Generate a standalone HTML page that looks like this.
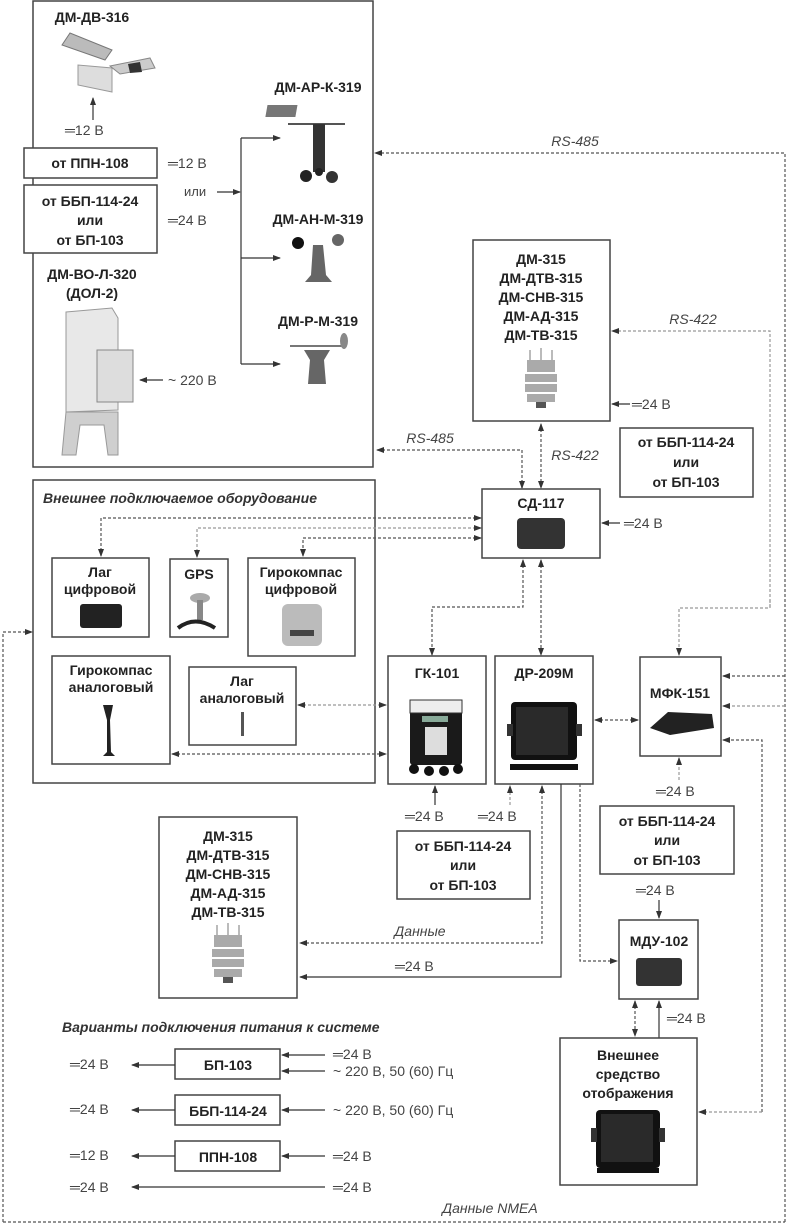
<!DOCTYPE html>
<html><head><meta charset="utf-8">
<style>
html,body{margin:0;padding:0;background:#fff;}
svg{display:block;}
text{font-family:"Liberation Sans",Arial,sans-serif;fill:#222;}
.b{font-weight:bold;font-size:14px;}
.n{font-size:14px;fill:#444;}
.i{font-style:italic;font-size:14px;fill:#444;}
.bi{font-style:italic;font-weight:bold;font-size:14px;fill:#333;}
.box{fill:#fff;stroke:#444;stroke-width:1.5;}
.s{stroke:#333;stroke-width:1.2;fill:none;}
.d{stroke:#555;stroke-width:1.2;fill:none;stroke-dasharray:3,2;}
.dl{stroke:#999;stroke-width:1.2;fill:none;stroke-dasharray:3,2;}
</style></head><body>
<svg width="787" height="1224" viewBox="0 0 787 1224" xmlns="http://www.w3.org/2000/svg">
<defs>
<marker id="a" markerWidth="8" markerHeight="8" refX="7" refY="4" orient="auto" markerUnits="userSpaceOnUse"><path d="M0,1 L8,4 L0,7 Z" fill="#333"/></marker>
<marker id="as" markerWidth="8" markerHeight="8" refX="1" refY="4" orient="auto" markerUnits="userSpaceOnUse"><path d="M8,1 L0,4 L8,7 Z" fill="#333"/></marker>
</defs>

<!-- Top box -->
<rect class="box" x="33" y="1" width="340" height="466"/>
<text class="b" x="92" y="22" text-anchor="middle">ДМ-ДВ-316</text>
<!-- camera -->
<path d="M62,45 L70,33 L112,50 L105,60 Z" fill="#bbb" stroke="#777"/>
<path d="M78,65 L78,85 L112,92 L112,68 Z" fill="#ddd" stroke="#999"/>
<path d="M110,66 L150,58 L155,68 L120,74 Z" fill="#ccc" stroke="#888"/>
<path d="M128,64 L140,62 L142,72 L130,73 Z" fill="#333"/>
<line class="s" x1="93" y1="120" x2="93" y2="98" marker-end="url(#a)"/>
<text class="n" x="65" y="135">═12 В</text>

<rect class="box" x="24" y="148" width="133" height="30"/>
<text class="b" x="90" y="168" text-anchor="middle">от ППН-108</text>
<text class="n" x="168" y="168">═12 В</text>
<rect class="box" x="24" y="185" width="133" height="68"/>
<text class="b" x="90" y="206" text-anchor="middle">от ББП-114-24</text>
<text class="b" x="90" y="225" text-anchor="middle">или</text>
<text class="b" x="90" y="245" text-anchor="middle">от БП-103</text>
<text class="n" x="168" y="225">═24 В</text>
<text class="n" x="184" y="196" style="font-size:13px">или</text>
<line class="s" x1="217" y1="192" x2="240" y2="192" marker-end="url(#a)"/>
<line class="s" x1="241" y1="138" x2="241" y2="364"/>
<line class="s" x1="241" y1="138" x2="280" y2="138" marker-end="url(#a)"/>
<line class="s" x1="241" y1="258" x2="280" y2="258" marker-end="url(#a)"/>
<line class="s" x1="241" y1="364" x2="280" y2="364" marker-end="url(#a)"/>

<text class="b" x="318" y="92" text-anchor="middle">ДМ-АР-К-319</text>
<rect x="286" y="105" width="30" height="12" fill="#777" transform="skewX(-10)"/>
<line x1="288" y1="124" x2="345" y2="124" stroke="#555" stroke-width="2"/>
<rect x="313" y="124" width="12" height="48" fill="#333"/>
<circle cx="306" cy="176" r="6" fill="#222"/><circle cx="332" cy="177" r="6" fill="#333"/><circle cx="319" cy="172" r="4" fill="#222"/>

<text class="b" x="318" y="224" text-anchor="middle">ДМ-АН-М-319</text>
<circle cx="298" cy="243" r="6" fill="#111"/><circle cx="338" cy="240" r="6" fill="#666"/>
<path d="M313,245 L323,245 L326,275 L332,282 L305,282 L311,275 Z" fill="#666"/>

<text class="b" x="318" y="326" text-anchor="middle">ДМ-Р-М-319</text>
<line x1="290" y1="346" x2="345" y2="346" stroke="#777" stroke-width="2"/>
<ellipse cx="344" cy="341" rx="4" ry="8" fill="#888"/>
<path d="M304,350 L330,350 L324,360 L326,384 L308,384 L310,360 Z" fill="#666"/>

<text class="b" x="92" y="279" text-anchor="middle">ДМ-ВО-Л-320</text>
<text class="b" x="92" y="298" text-anchor="middle">(ДОЛ-2)</text>
<path d="M66,312 L112,308 L118,318 L118,410 L66,412 Z" fill="#e8e8e8" stroke="#999"/>
<rect x="97" y="350" width="36" height="52" fill="#ddd" stroke="#888"/>
<path d="M66,412 L118,412 L118,455 L108,455 L104,425 L80,425 L76,455 L62,455 Z" fill="#cfcfcf" stroke="#999"/>
<line class="s" x1="163" y1="380" x2="140" y2="380" marker-end="url(#a)"/>
<text class="n" x="168" y="385">~ 220 В</text>

<!-- RS-485 top -->
<polyline class="d" points="785,1222 785,153 375,153" marker-end="url(#a)"/>
<text class="i" x="575" y="146" text-anchor="middle">RS-485</text>

<!-- top DM-315 box -->
<rect class="box" x="473" y="240" width="137" height="181"/>
<text class="b" x="541" y="264" text-anchor="middle">ДМ-315</text>
<text class="b" x="541" y="283" text-anchor="middle">ДМ-ДТВ-315</text>
<text class="b" x="541" y="302" text-anchor="middle">ДМ-СНВ-315</text>
<text class="b" x="541" y="321" text-anchor="middle">ДМ-АД-315</text>
<text class="b" x="541" y="340" text-anchor="middle">ДМ-ТВ-315</text>
<g fill="#aaa"><rect x="527" y="360" width="28" height="12"/><rect x="525" y="374" width="32" height="8"/><rect x="525" y="384" width="32" height="8"/><rect x="527" y="394" width="28" height="8"/><rect x="536" y="402" width="10" height="6" fill="#555"/></g>
<line x1="530" y1="350" x2="530" y2="360" stroke="#777"/><line x1="541" y1="348" x2="541" y2="360" stroke="#777"/><line x1="552" y1="350" x2="552" y2="360" stroke="#777"/>
<polyline class="dl" points="770,607 770,331 612,331" marker-end="url(#a)"/>
<text class="i" x="693" y="324" text-anchor="middle">RS-422</text>
<line class="s" x1="630" y1="404" x2="612" y2="404" marker-end="url(#a)"/>
<text class="n" x="632" y="409">═24 В</text>

<rect class="box" x="620" y="428" width="133" height="69"/>
<text class="b" x="686" y="447" text-anchor="middle">от ББП-114-24</text>
<text class="b" x="686" y="467" text-anchor="middle">или</text>
<text class="b" x="686" y="487" text-anchor="middle">от БП-103</text>

<polyline class="d" points="522,488 522,450 377,450" marker-end="url(#a)"/>
<line class="d" x1="522" y1="480" x2="522" y2="488" marker-end="url(#a)"/>
<text class="i" x="430" y="443" text-anchor="middle">RS-485</text>
<line class="d" x1="541" y1="424" x2="541" y2="488" marker-start="url(#as)" marker-end="url(#a)"/>
<text class="i" x="575" y="460" text-anchor="middle">RS-422</text>

<!-- СД-117 -->
<rect class="box" x="482" y="489" width="118" height="69"/>
<text class="b" x="541" y="508" text-anchor="middle">СД-117</text>
<rect x="517" y="518" width="48" height="31" rx="4" fill="#333"/>
<line class="s" x1="620" y1="523" x2="602" y2="523" marker-end="url(#a)"/>
<text class="n" x="624" y="528">═24 В</text>

<!-- External equipment -->
<rect class="box" x="33" y="480" width="342" height="303"/>
<text class="bi" x="43" y="503">Внешнее подключаемое оборудование</text>
<polyline class="d" points="481,518 101,518 101,556" marker-start="url(#as)" marker-end="url(#a)"/>
<polyline class="dl" points="481,528 197,528 197,557" marker-start="url(#as)" marker-end="url(#a)"/>
<polyline class="d" points="481,538 303,538 303,556" marker-start="url(#as)" marker-end="url(#a)"/>

<rect class="box" x="52" y="558" width="97" height="79"/>
<text class="b" x="100" y="577" text-anchor="middle">Лаг</text>
<text class="b" x="100" y="594" text-anchor="middle">цифровой</text>
<rect x="80" y="604" width="42" height="24" rx="3" fill="#222"/>
<rect x="170" y="559" width="58" height="78" class="box"/>
<text class="b" x="199" y="579" text-anchor="middle">GPS</text>
<ellipse cx="200" cy="598" rx="10" ry="5" fill="#aaa"/><rect x="197" y="600" width="6" height="20" fill="#888"/>
<path d="M178,628 Q195,615 215,628" stroke="#222" stroke-width="4" fill="none"/>
<rect class="box" x="248" y="558" width="107" height="98"/>
<text class="b" x="301" y="577" text-anchor="middle">Гирокомпас</text>
<text class="b" x="301" y="594" text-anchor="middle">цифровой</text>
<rect x="282" y="604" width="40" height="42" rx="6" fill="#bbb"/><rect x="290" y="630" width="24" height="6" fill="#444"/>
<rect class="box" x="52" y="656" width="118" height="108"/>
<text class="b" x="111" y="675" text-anchor="middle">Гирокомпас</text>
<text class="b" x="111" y="692" text-anchor="middle">аналоговый</text>
<path d="M103,705 L113,705 L110,720 L111,752 L115,756 L103,756 L107,752 L107,720 Z" fill="#222"/>
<rect class="box" x="189" y="667" width="107" height="78"/>
<text class="b" x="242" y="686" text-anchor="middle">Лаг</text>
<text class="b" x="242" y="703" text-anchor="middle">аналоговый</text>
<rect x="241" y="712" width="3" height="24" fill="#555"/>
<line class="dl" x1="298" y1="705" x2="386" y2="705" marker-start="url(#as)" marker-end="url(#a)"/>
<line class="d" x1="172" y1="754" x2="386" y2="754" marker-start="url(#as)" marker-end="url(#a)"/>
<polyline class="d" points="3,1222 3,632 32,632" marker-end="url(#a)"/>

<!-- ГК-101, ДР-209М -->
<polyline class="d" points="523,560 523,607 432,607 432,655" marker-start="url(#as)" marker-end="url(#a)"/>
<line class="d" x1="541" y1="560" x2="541" y2="655" marker-start="url(#as)" marker-end="url(#a)"/>
<rect class="box" x="388" y="656" width="98" height="128"/>
<text class="b" x="437" y="678" text-anchor="middle">ГК-101</text>
<rect x="410" y="700" width="52" height="65" rx="3" fill="#1a1a1a"/>
<rect x="410" y="700" width="52" height="13" fill="#eee" stroke="#333"/>
<rect x="422" y="716" width="26" height="6" fill="#8a9"/>
<rect x="425" y="727" width="22" height="28" fill="#ddd"/>
<g fill="#111"><circle cx="414" cy="769" r="5"/><circle cx="429" cy="771" r="5"/><circle cx="444" cy="771" r="5"/><circle cx="458" cy="769" r="5"/></g>
<rect class="box" x="495" y="656" width="98" height="128"/>
<text class="b" x="544" y="678" text-anchor="middle">ДР-209М</text>
<rect x="511" y="702" width="66" height="58" rx="4" fill="#111"/>
<rect x="516" y="707" width="52" height="48" fill="#2a2a2a"/>
<rect x="507" y="724" width="6" height="12" fill="#333"/><rect x="576" y="724" width="6" height="12" fill="#333"/>
<rect x="510" y="764" width="68" height="6" fill="#111"/>
<line class="d" x1="595" y1="720" x2="638" y2="720" marker-start="url(#as)" marker-end="url(#a)"/>

<!-- МФК-151 -->
<polyline class="dl" points="770,600 770,608 679,608 679,655" marker-end="url(#a)"/>
<rect class="box" x="640" y="657" width="81" height="99"/>
<text class="b" x="680" y="698" text-anchor="middle">МФК-151</text>
<path d="M650,728 L668,712 L712,714 L714,728 L670,735 Z" fill="#222"/>
<line class="d" x1="785" y1="676" x2="723" y2="676" marker-end="url(#a)"/>
<line class="dl" x1="785" y1="706" x2="723" y2="706" marker-end="url(#a)"/>
<polyline class="d" points="762,1112 762,740 723,740" marker-end="url(#a)"/>
<line class="dl" x1="762" y1="1112" x2="699" y2="1112" marker-end="url(#a)"/>
<line class="dl" x1="679" y1="780" x2="679" y2="758" marker-end="url(#a)"/>
<text class="n" x="656" y="796">═24 В</text>
<rect class="box" x="600" y="806" width="134" height="68"/>
<text class="b" x="667" y="826" text-anchor="middle">от ББП-114-24</text>
<text class="b" x="667" y="845" text-anchor="middle">или</text>
<text class="b" x="667" y="865" text-anchor="middle">от БП-103</text>
<text class="n" x="636" y="895">═24 В</text>
<line class="s" x1="659" y1="900" x2="659" y2="918" marker-end="url(#a)"/>

<!-- power under ГК/ДР -->
<line class="s" x1="435" y1="805" x2="435" y2="786" marker-end="url(#a)"/>
<line class="dl" x1="510" y1="805" x2="510" y2="786" marker-end="url(#a)"/>
<text class="n" x="405" y="821">═24 В</text>
<text class="n" x="478" y="821">═24 В</text>
<rect class="box" x="397" y="831" width="133" height="68"/>
<text class="b" x="463" y="851" text-anchor="middle">от ББП-114-24</text>
<text class="b" x="463" y="870" text-anchor="middle">или</text>
<text class="b" x="463" y="890" text-anchor="middle">от БП-103</text>
<polyline class="d" points="542,786 542,943 300,943" marker-start="url(#as)" marker-end="url(#a)"/>
<text class="i" x="420" y="936" text-anchor="middle">Данные</text>
<polyline class="s" points="561,784 561,977 300,977" marker-end="url(#a)"/>
<text class="n" x="395" y="971">═24 В</text>
<polyline class="d" points="580,784 580,961 617,961" marker-end="url(#a)"/>

<!-- МДУ-102 -->
<rect class="box" x="619" y="920" width="79" height="79"/>
<text class="b" x="659" y="946" text-anchor="middle">МДУ-102</text>
<rect x="636" y="958" width="46" height="28" rx="3" fill="#333"/>
<line class="d" x1="635" y1="1001" x2="635" y2="1036" marker-start="url(#as)" marker-end="url(#a)"/>
<line class="s" x1="659" y1="1038" x2="659" y2="1001" marker-end="url(#a)"/>
<text class="n" x="667" y="1023">═24 В</text>
<rect class="box" x="560" y="1038" width="137" height="147"/>
<text class="b" x="628" y="1060" text-anchor="middle">Внешнее</text>
<text class="b" x="628" y="1079" text-anchor="middle">средство</text>
<text class="b" x="628" y="1098" text-anchor="middle">отображения</text>
<rect x="596" y="1110" width="64" height="58" rx="4" fill="#111"/>
<rect x="601" y="1114" width="52" height="48" fill="#2a2a2a"/>
<rect x="591" y="1128" width="6" height="14" fill="#333"/><rect x="659" y="1128" width="6" height="14" fill="#333"/>
<rect x="597" y="1168" width="62" height="5" fill="#111"/>

<!-- bottom DM-315 -->
<rect class="box" x="159" y="817" width="138" height="181"/>
<text class="b" x="228" y="841" text-anchor="middle">ДМ-315</text>
<text class="b" x="228" y="860" text-anchor="middle">ДМ-ДТВ-315</text>
<text class="b" x="228" y="879" text-anchor="middle">ДМ-СНВ-315</text>
<text class="b" x="228" y="898" text-anchor="middle">ДМ-АД-315</text>
<text class="b" x="228" y="917" text-anchor="middle">ДМ-ТВ-315</text>
<g fill="#aaa"><rect x="214" y="935" width="28" height="12"/><rect x="212" y="949" width="32" height="8"/><rect x="212" y="959" width="32" height="8"/><rect x="214" y="969" width="28" height="8"/><rect x="223" y="977" width="10" height="6" fill="#555"/></g>
<line x1="217" y1="925" x2="217" y2="935" stroke="#777"/><line x1="228" y1="923" x2="228" y2="935" stroke="#777"/><line x1="239" y1="925" x2="239" y2="935" stroke="#777"/>

<!-- power variants -->
<text class="bi" x="62" y="1032">Варианты подключения питания к системе</text>
<rect class="box" x="175" y="1049" width="105" height="30"/>
<text class="b" x="228" y="1070" text-anchor="middle">БП-103</text>
<rect class="box" x="175" y="1095" width="105" height="30"/>
<text class="b" x="228" y="1116" text-anchor="middle">ББП-114-24</text>
<rect class="box" x="175" y="1141" width="105" height="30"/>
<text class="b" x="228" y="1162" text-anchor="middle">ППН-108</text>
<line class="s" x1="175" y1="1065" x2="132" y2="1065" marker-end="url(#a)"/>
<line class="s" x1="175" y1="1110" x2="132" y2="1110" marker-end="url(#a)"/>
<line class="s" x1="175" y1="1156" x2="132" y2="1156" marker-end="url(#a)"/>
<line class="s" x1="325" y1="1187" x2="132" y2="1187" marker-end="url(#a)"/>
<text class="n" x="70" y="1069">═24 В</text>
<text class="n" x="70" y="1114">═24 В</text>
<text class="n" x="70" y="1160">═12 В</text>
<text class="n" x="70" y="1192">═24 В</text>
<line class="s" x1="325" y1="1055" x2="282" y2="1055" marker-end="url(#a)"/>
<line class="s" x1="325" y1="1071" x2="282" y2="1071" marker-end="url(#a)"/>
<line class="s" x1="325" y1="1110" x2="282" y2="1110" marker-end="url(#a)"/>
<line class="s" x1="325" y1="1156" x2="282" y2="1156" marker-end="url(#a)"/>
<text class="n" x="333" y="1059">═24 В</text>
<text class="n" x="333" y="1076">~ 220 В, 50 (60) Гц</text>
<text class="n" x="333" y="1115">~ 220 В, 50 (60) Гц</text>
<text class="n" x="333" y="1161">═24 В</text>
<text class="n" x="333" y="1192">═24 В</text>

<!-- NMEA -->
<line class="d" x1="3" y1="1222" x2="785" y2="1222"/>
<text class="i" x="490" y="1213" text-anchor="middle">Данные NMEA</text>
</svg>
</body></html>
